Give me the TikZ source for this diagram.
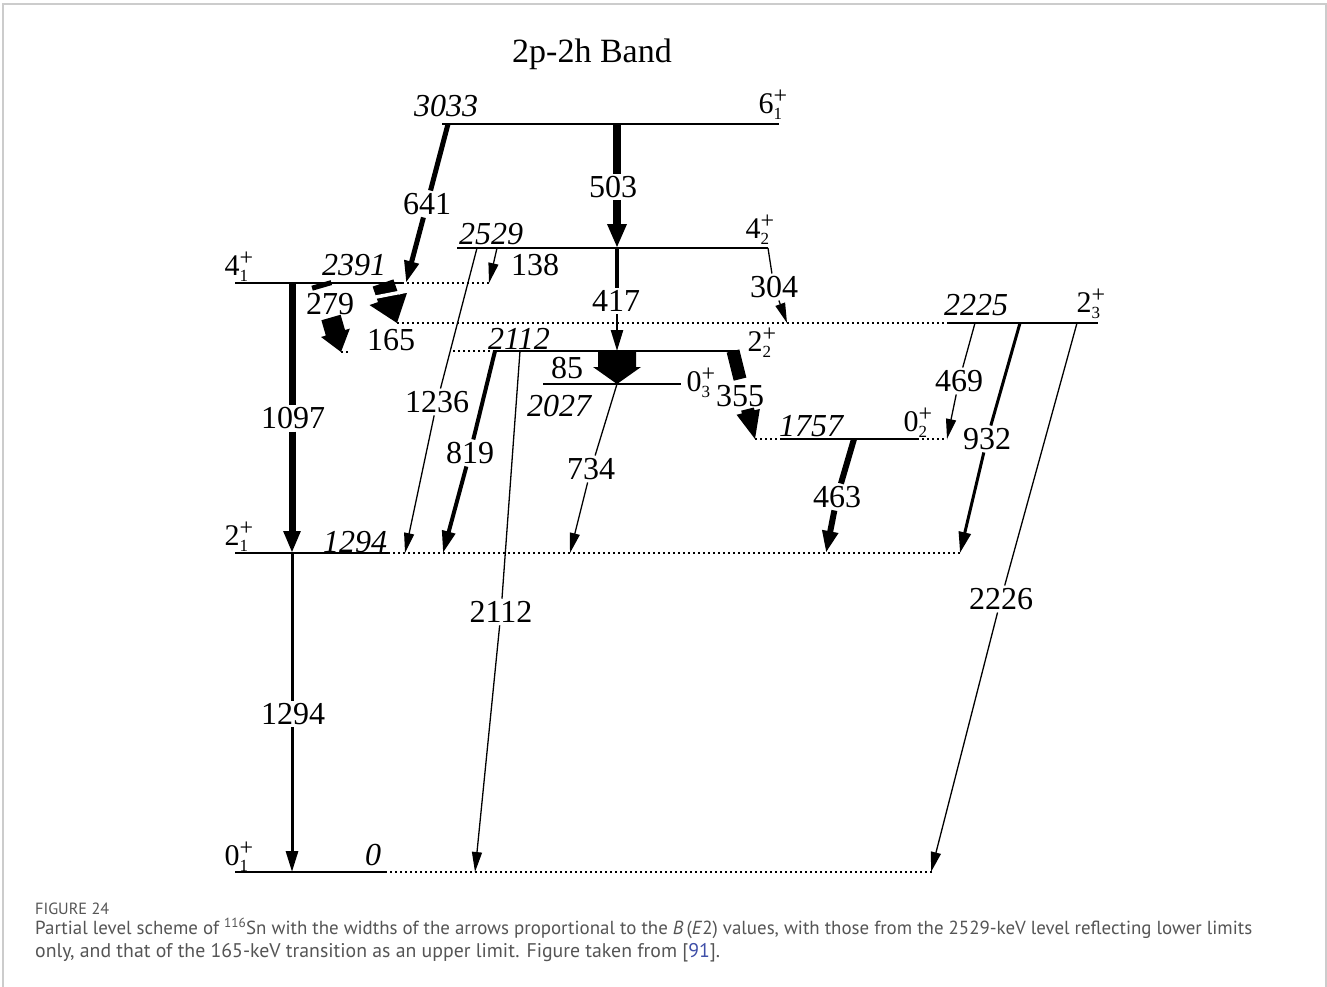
\documentclass[tikz,border=0pt]{standalone}
\usepackage{fontspec}
\setmainfont{Liberation Serif}
\newfontfamily\capfont{PT Sans}
\usetikzlibrary{arrows.meta,calc}
\definecolor{framegray}{HTML}{CCCCCC}
\definecolor{capgray}{HTML}{555555}
\definecolor{capblue}{HTML}{3F4FA8}
\newcommand\spn[2]{#1\makebox[14pt][l]{\rlap{\raisebox{10pt}{\fontsize{24}{24}\selectfont +}}\raisebox{-6pt}{\fontsize{17}{17}\selectfont #2}}}
% fat arrow: start, end, half shaft, half head, head length
\newcommand\fatarr[5]{%
  \coordinate (fah) at ($(#2)!#5!(#1)$);
  \fill ($(#1)!#3!90:(#2)$) -- ($(fah)!#3!90:(#2)$) -- ($(fah)!#4!90:(#2)$) -- (#2) -- ($(fah)!#4!-90:(#2)$) -- ($(fah)!#3!-90:(#2)$) -- ($(#1)!#3!-90:(#2)$) -- cycle;}
% fat shaft piece without head: start, end, half width
\newcommand\fatseg[3]{%
  \fill ($(#1)!#3!90:(#2)$) -- ($(#2)!#3!-90:(#1)$) -- ($(#2)!#3!90:(#1)$) -- ($(#1)!#3!-90:(#2)$) -- cycle;}
\tikzset{
  lvl/.style={line width=1.6pt},
  dotl/.style={line width=1.6pt, dash pattern=on 1.6pt off 3.4pt},
  en/.style={font=\fontsize{32}{32}\selectfont\itshape, inner sep=0pt},
  glab/.style={font=\fontsize{32}{32}\selectfont, inner sep=0.5pt},
  wlab/.style={font=\fontsize{32}{32}\selectfont, inner sep=2.5pt},
  spin/.style={font=\fontsize{30}{30}\selectfont, inner sep=0pt},
  thinl/.style={line width=1.3pt},
  thinarr/.style={line width=1.3pt, -{Triangle[length=20pt,width=10pt]}},
  medl/.style={line width=3pt},
  medarr/.style={line width=3pt, -{Triangle[length=21pt,width=12pt]}},
}
\begin{document}
\begin{tikzpicture}[x=1pt,y=-1pt]
\useasboundingbox (0,0) rectangle (1327,987);
\fill[white] (0,0) rectangle (1327,987);
% frame
\coordinate (f1) at (3,987); \coordinate (f2) at (3,4); \coordinate (f3) at (1326,4); \coordinate (f4) at (1326,987);
\draw[framegray, line width=1.5pt] (f1) -- (f2) -- (f3) -- (f4);

% title
\node[font=\fontsize{34}{34}\selectfont, inner sep=0pt, anchor=base] (title) at (592,63) {2p-2h Band};

% level coordinates
\coordinate (A3033) at (442,124); \coordinate (B3033) at (779,124);
\coordinate (A2529) at (457,248); \coordinate (B2529) at (768,248);
\coordinate (A2391) at (235,283); \coordinate (B2391) at (402,283); \coordinate (C2391) at (489,283);
\coordinate (D2225) at (397,323); \coordinate (A2225) at (948,323); \coordinate (B2225) at (1098,323);
\coordinate (D2112) at (453,351); \coordinate (A2112) at (493,351); \coordinate (B2112) at (737,351);
\coordinate (A2027) at (543,384); \coordinate (B2027) at (681,384);
\coordinate (D1757) at (755,439); \coordinate (A1757) at (782,439); \coordinate (B1757) at (917,439); \coordinate (E1757) at (947,439);
\coordinate (A1294) at (235,553); \coordinate (B1294) at (388,553); \coordinate (E1294) at (962,553);
\coordinate (A0) at (235,872); \coordinate (B0) at (385,872); \coordinate (E0) at (932,872);

\draw[lvl] (A3033) -- (B3033);
\draw[lvl] (A2529) -- (B2529);
\draw[lvl] (A2391) -- (B2391);
\draw[lvl] (A2225) -- (B2225);
\draw[lvl] (A2112) -- (B2112);
\draw[lvl] (A2027) -- (B2027);
\draw[lvl] (A1757) -- (B1757);
\draw[lvl] (A1294) -- (B1294);
\draw[lvl] (A0) -- (B0);
\draw[dotl] (B2391) -- (C2391);
\draw[dotl] (D2225) -- (A2225);
\draw[dotl] (D2112) -- (A2112);
\draw[dotl] (D1757) -- (A1757);
\draw[dotl] (B1757) -- (E1757);
\draw[dotl] (B1294) -- (E1294);
\draw[dotl] (B0) -- (E0);

% energy labels
\node[en] (n3033) at (446,106) {3033};
\node[en] (n2529) at (491,234) {2529};
\node[en] (n2391) at (354,265) {2391};
\node[en] (n2225) at (976,305) {2225};
\node[en] (n2112) at (519,339) {2112};
\node[en] (n2027) at (559,406) {2027};
\node[en] (n1757) at (811,426) {1757};
\node[en] (n1294) at (355,542) {1294};
\node[en] (n0) at (373,855) {0};

% spin labels
\node[spin] (p61) at (773,105) {\spn{6}{1}};
\node[spin] (p42) at (760,230) {\spn{4}{2}};
\node[spin] (p41) at (239,267) {\spn{4}{1}};
\node[spin] (p23) at (1091,304) {\spn{2}{3}};
\node[spin] (p22) at (762,343) {\spn{2}{2}};
\node[spin] (p03) at (701,383) {\spn{0}{3}};
\node[spin] (p02) at (918,423) {\spn{0}{2}};
\node[spin] (p21) at (239,537) {\spn{2}{1}};
\node[spin] (p01) at (239,857) {\spn{0}{1}};

% gamma labels
\node[wlab] (g503) at (613,187) {503};
\node[wlab] (g641) at (427,204) {641};
\node[glab] (g138) at (535,265) {138};
\node[wlab] (g417) at (616,301) {417};
\node[wlab] (g304) at (774,287) {304};
\node[wlab, inner sep=0.5pt] (g279) at (330,304) {279};
\node[glab] (g165) at (391,340) {165};
\node[glab] (g85) at (567,368) {85};
\node[glab] (g355) at (740,396) {355};
\node[wlab] (g1236) at (437,402) {1236};
\node[wlab] (g1097) at (293,418) {1097};
\node[wlab] (g469) at (959,381) {469};
\node[wlab] (g932) at (987,439) {932};
\node[wlab] (g819) at (470,453) {819};
\node[wlab] (g734) at (591,469) {734};
\node[wlab] (g463) at (837,497) {463};
\node[wlab] (g2112) at (501,612) {2112};
\node[wlab] (g2226) at (1001,599) {2226};
\node[wlab] (g1294) at (293,714) {1294};

% transition coordinates
\coordinate (s503) at (617,124); \coordinate (e503) at (617,248);
\coordinate (s641) at (448,124); \coordinate (e641) at (406,283);
\coordinate (s138) at (497,248); \coordinate (e138) at (489,283);
\coordinate (s1236) at (477,248); \coordinate (e1236) at (405,553);
\coordinate (s417) at (617,248); \coordinate (e417) at (617,351);
\coordinate (s304) at (768,248); \coordinate (e304) at (787,323);
\coordinate (s279) at (321,283); \coordinate (e279) at (341,352); \coordinate (d279) at (349,352);
\coordinate (m279a) at ($(s279)!0.07!(e279)$); \coordinate (m279b) at ($(s279)!0.5!(e279)$);
\coordinate (s165) at (383,283); \coordinate (e165) at (397,323);
\coordinate (w165a) at (366,299); \coordinate (w165b) at (412,290);
\coordinate (s1097) at (292,283); \coordinate (e1097) at (292,553);
\coordinate (s1294) at (292,553); \coordinate (e1294) at (292,872);
\coordinate (s819) at (495,351); \coordinate (e819) at (443,553);
\coordinate (s2112) at (520,351); \coordinate (e2112) at (475,872);
\coordinate (s85) at (617,351); \coordinate (e85) at (617,384);
\coordinate (s734) at (617,384); \coordinate (e734) at (570,553);
\coordinate (s355) at (733,351); \coordinate (e355) at (755,439);
\coordinate (m355a) at ($(s355)!0.32!(e355)$); \coordinate (m355b) at ($(s355)!0.66!(e355)$);
\coordinate (s463) at (854,439); \coordinate (e463) at (826,553);
\coordinate (s469) at (975,323); \coordinate (e469) at (947,439);
\coordinate (s932) at (1020,323); \coordinate (e932) at (960,553);
\coordinate (s2226) at (1077,323); \coordinate (e2226) at (931,872);

% transitions (broken at their labels)
\draw[line width=8pt] (s503) -- (s503 |- g503.north);
\draw[line width=8pt, -{Triangle[length=24pt,width=18pt]}] (s503 |- g503.south) -- (e503);
\draw[line width=5pt] (s641) -- (g641);
\draw[line width=5pt, -{Triangle[length=22pt,width=14pt]}] (g641) -- (e641);
\draw[thinarr] (s138) -- (e138);
\draw[thinl] (s1236) -- (g1236);
\draw[thinarr] (g1236) -- (e1236);
\draw[line width=4pt] (s417) -- (s417 |- g417.north);
\draw[line width=2.5pt, -{Triangle[length=21pt,width=12pt]}] (s417 |- g417.south) -- (e417);
\draw[thinl] (s304) -- (g304);
\draw[thinarr] (g304) -- (e304);
\draw[line width=7pt] (s1097) -- (s1097 |- g1097.north);
\draw[line width=7pt, -{Triangle[length=22pt,width=16pt]}] (s1097 |- g1097.south) -- (e1097);
\draw[medl] (s1294) -- (s1294 |- g1294.north);
\draw[medarr] (s1294 |- g1294.south) -- (e1294);
\draw[line width=4pt] (s819) -- (g819);
\draw[line width=4pt, -{Triangle[length=22pt,width=13pt]}] (g819) -- (e819);
\draw[thinl] (s2112) -- (g2112);
\draw[thinarr] (g2112) -- (e2112);
\draw[thinl] (s734) -- (g734);
\draw[thinarr] (g734) -- (e734);
\draw[line width=6pt] (s463) -- (g463);
\draw[line width=6pt, -{Triangle[length=22pt,width=15pt]}] (g463) -- (e463);
\draw[thinl] (s469) -- (g469);
\draw[thinarr] (g469) -- (e469);
\draw[medl] (s932) -- (g932);
\draw[medarr] (g932) -- (e932);
\draw[thinl] (s2226) -- (g2226);
\draw[thinarr] (g2226) -- (e2226);
% wide arrows
\fatseg{s279}{m279a}{10pt}
\fatarr{m279b}{e279}{10pt}{15pt}{20pt}
\draw[dotl] (e279) -- (d279);
\fatarr{s165}{e165}{11pt}{20pt}{26pt}
\draw[white, line width=3.5pt] (w165a) -- (w165b);
\fatarr{s85}{e85}{19pt}{24pt}{17pt}
\fatseg{s355}{m355a}{6.5pt}
\fatarr{m355b}{e355}{6.5pt}{12pt}{28pt}

% caption
\node[anchor=base west, inner sep=0pt, text=capgray] (cap0) at (35,914) {\resizebox{74pt}{!}{\capfont\fontsize{16}{16}\selectfont FIGURE 24}};
\node[anchor=base west, inner sep=0pt, text=capgray] (cap1) at (35,934) {\resizebox{1217pt}{!}{\capfont\fontsize{19}{19}\selectfont Partial level scheme of \textsuperscript{116}Sn with the widths of the arrows proportional to the \textit{B}\,(\textit{E}2) values, with those from the 2529-keV level reflecting lower limits}};
\node[anchor=base west, inner sep=0pt, text=capgray] (cap2) at (35,957) {\resizebox{685pt}{!}{\capfont\fontsize{19}{19}\selectfont only, and that of the 165-keV transition as an upper limit. Figure taken from [\textcolor{capblue}{91}].}};
\end{tikzpicture}
\end{document}
